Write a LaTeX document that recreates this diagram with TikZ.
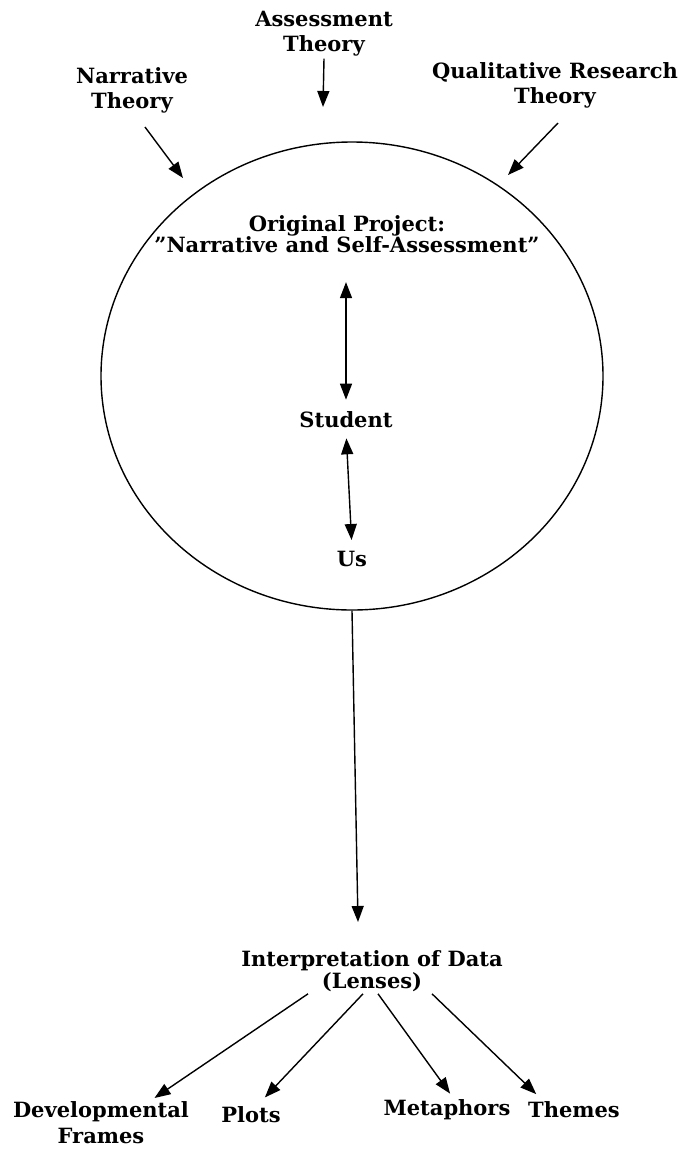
\documentclass[tikz,border=0pt]{standalone}
\usepackage{fontspec}
\setmainfont{DejaVu Serif}
\usetikzlibrary{shapes.geometric,arrows.meta}

\begin{document}
\begin{tikzpicture}[x=1pt, y=-1pt, node distance=139pt,
  every text node part/.style={align=center},
  every node/.style={font=\fontsize{21}{25}\selectfont\bfseries, inner sep=2pt},
  arr/.style={line width=1.4pt, -{Triangle[length=16pt,width=12pt]}},
  darr/.style={line width=1.4pt, {Triangle[length=16pt,width=12pt]}-{Triangle[length=16pt,width=12pt]}}]
\useasboundingbox (0,0) rectangle (682,1152);

% the project
\node (circ) [draw, ellipse, line width=1.4pt, minimum width=502pt, minimum height=468pt] at (352,376) {};

% theories feeding in
\node (assess) at (324,34) {Assessment\\Theory};
\node (narr) at (132,90) {Narrative\\Theory};
\node (qual) at (555,85) {Qualitative Research\\Theory};
\coordinate (assesstip) at (323,107);
\coordinate (narrtip) at (183,178);
\coordinate (qualtip) at (508,175);

\draw [arr] (assess.south) -- (assesstip);
\draw [arr] ([xshift=13pt,yshift=-12pt]narr.south) -- (narrtip);
\draw [arr] ([xshift=3pt,yshift=-13pt]qual.south) -- (qualtip);

% inside the circle
\node (orig) at (347,234) [font=\fontsize{21}{18}\selectfont\bfseries] {Original Project:\\"Narrative and Self-Assessment"};
\node (student) at (346,420) {Student};
\node (us) [below of=student, xshift=6pt] {Us};

\draw [darr, shorten <=27pt, shorten >=10pt] (orig.south -| student) -- (student.north);
\draw [darr, shorten <=8pt, shorten >=9pt] (student.south) -- (us.north);

% interpretation
\node (interp) at (372,971) [font=\fontsize{21}{22}\selectfont\bfseries] {Interpretation of Data\\(Lenses)};
\coordinate (interptip) at (358,922);
\draw [arr] (circ.south) -- (interptip);

\node (dev) at (101,1123) [font=\fontsize{21}{26}\selectfont\bfseries] {Developmental\\Frames};
\node (plots) at (251,1115) {Plots};
\node (meta) at (447,1110) {Metaphors};
\node (themes) at (574,1110) {Themes};

\draw [arr, shorten >=3pt] ([xshift=-64pt]interp.south) -- ([xshift=51pt]dev.north);
\draw [arr, shorten >=10pt] ([xshift=-9pt]interp.south) -- ([xshift=7pt]plots.north);
\draw [arr, shorten >=5pt] ([xshift=6pt]interp.south) -- ([xshift=6pt]meta.north);
\draw [arr, shorten >=8pt] ([xshift=60pt]interp.south) -- ([xshift=-32pt]themes.north);

\end{tikzpicture}
\end{document}
